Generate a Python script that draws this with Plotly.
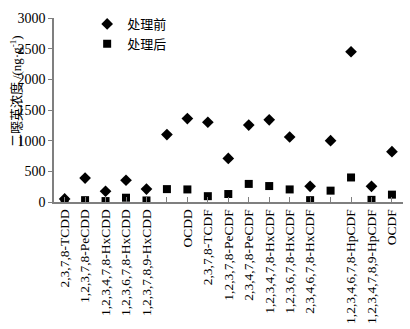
import plotly.graph_objects as go

categories = ["2,3,7,8-TCDD", "1,2,3,7,8-PeCDD", "1,2,3,4,7,8-HxCDD", "1,2,3,6,7,8-HxCDD",
              "1,2,3,7,8,9-HxCDD", "1,2,3,4,6,7,8-HpCDD", "OCDD", "2,3,7,8-TCDF",
              "1,2,3,7,8-PeCDF", "2,3,4,7,8-PeCDF", "1,2,3,4,7,8-HxCDF", "1,2,3,6,7,8-HxCDF",
              "2,3,4,6,7,8-HxCDF", "1,2,3,7,8,9-HxCDF", "1,2,3,4,6,7,8-HpCDF",
              "1,2,3,4,7,8,9-HpCDF", "OCDF"]
tick_labels = ["2,3,7,8-TCDD", "1,2,3,7,8-PeCDD", "1,2,3,4,7,8-HxCDD", "1,2,3,6,7,8-HxCDD",
               "1,2,3,7,8,9-HxCDD", "", "OCDD", "2,3,7,8-TCDF",
               "1,2,3,7,8-PeCDF", "2,3,4,7,8-PeCDF", "1,2,3,4,7,8-HxCDF", "1,2,3,6,7,8-HxCDF",
               "2,3,4,6,7,8-HxCDF", "", "1,2,3,4,6,7,8-HpCDF",
               "1,2,3,4,7,8,9-HpCDF", "OCDF"]
before = [50, 390, 175, 355, 210, 1100, 1360, 1300, 710, 1255, 1340, 1060, 255, 1000, 2450, 255, 820]
after = [10, 30, 15, 70, 25, 210, 205, 95, 130, 295, 260, 205, 30, 185, 400, 35, 120]
y_ticks = [0, 500, 1000, 1500, 2000, 2500, 3000]

xpos = list(range(len(categories)))

fig = go.Figure()
fig.add_trace(go.Scatter(x=xpos, y=before, mode="markers", name="处理前",
                         text=categories,
                         marker=dict(symbol="diamond", size=9, color="black")))
fig.add_trace(go.Scatter(x=xpos, y=after, mode="markers", name="处理后",
                         text=categories,
                         marker=dict(symbol="square", size=8, color="black")))

axis_color = "#7f7f7f"
fig.update_layout(
    width=410, height=329,
    margin=dict(l=54, r=7, t=18, b=127, autoexpand=False),
    paper_bgcolor="white", plot_bgcolor="white",
    font=dict(family="Liberation Serif", size=13, color="black"),
    showlegend=True,
    legend=dict(x=0.095, y=1.049, xanchor="left", yanchor="top",
                bgcolor="rgba(0,0,0,0)", tracegroupgap=0,
                font=dict(family="Noto Sans CJK SC", size=13, color="black"),
                itemwidth=30),
    xaxis=dict(range=[-0.52, 16.54], tickmode="array", tickvals=xpos, ticktext=tick_labels,
               tickangle=-90, ticks="inside", ticklen=5, tickcolor=axis_color,
               showline=True, linecolor=axis_color, linewidth=1.5, showgrid=False,
               zeroline=False, automargin=False,
               tickfont=dict(family="Liberation Serif", size=13.5)),
    yaxis=dict(range=[0, 3000], tickmode="array", tickvals=y_ticks,
               ticks="outside", ticklen=4, tickcolor=axis_color,
               showline=True, linecolor=axis_color, linewidth=1.5, showgrid=False,
               zeroline=False, automargin=False,
               tickfont=dict(family="Liberation Serif", size=14)),
)
fig.add_annotation(text="二噁英浓度 <span style='font-family:Liberation Serif'>/(ng·g<sup>-1</sup>)</span>",
                   textangle=-90,
                   xref="paper", yref="paper", x=(15 - 54) / 349, y=(202 - 91) / 184,
                   xanchor="center", yanchor="middle", showarrow=False,
                   font=dict(family="Noto Sans CJK SC", size=13, color="black"))
fig.write_html("out.html", config={"displayModeBar": False},
               post_script="document.body.style.margin='0';document.body.style.padding='0';")
